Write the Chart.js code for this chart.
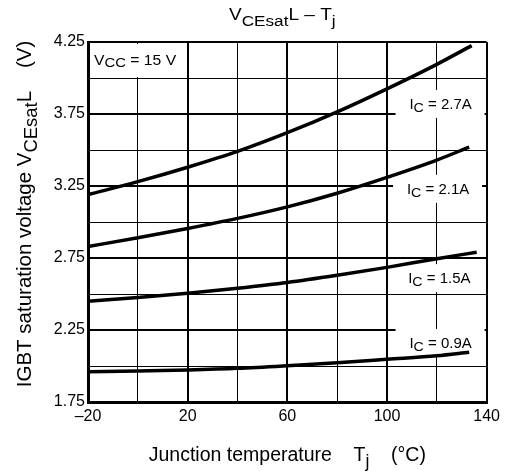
<!DOCTYPE html>
<html>
<head>
<meta charset="utf-8">
<script src="https://cdn.jsdelivr.net/npm/chart.js@4/dist/chart.umd.min.js"></script>
<style>
  body { margin: 0; background: #fff; }
</style>
</head>
<body>
<canvas id="vceChart" width="505" height="471"></canvas>
<script>
// values
const temps = [-20, 0, 20, 40, 60, 80, 100, 120];
const endTemps = [134, 133, 136, 133];
const ic27 = [3.19, 3.28, 3.38, 3.49, 3.62, 3.765, 3.925, 4.095, 4.225];
const ic21 = [2.83, 2.89, 2.955, 3.025, 3.105, 3.20, 3.31, 3.43, 3.52];
const ic15 = [2.45, 2.475, 2.505, 2.54, 2.58, 2.63, 2.685, 2.745, 2.79];
const ic09 = [1.96, 1.966, 1.973, 1.984, 2.002, 2.023, 2.047, 2.071, 2.095];
const seriesNames = ["2.7A", "2.1A", "1.5A", "0.9A"];
const xTickLabels = [-20, 20, 60, 100, 140];
const yTickLabels = [1.75, 2.25, 2.75, 3.25, 3.75, 4.25];

const FONT = "'Liberation Sans', Arial, sans-serif";

const toPoints = (vals, i) =>
  vals.map((v, k) => ({ x: k < temps.length ? temps[k] : endTemps[i], y: v }));

const datasets = [ic27, ic21, ic15, ic09].map((vals, i) => ({
  label: "IC = " + seriesNames[i],
  data: toPoints(vals, i),
  borderColor: "#000",
  borderWidth: 3.5,
  pointRadius: 0,
  showLine: true,
  fill: false,
  cubicInterpolationMode: "monotone",
}));

// draw text made of pieces, some of them lowered like subscripts,
// sx stretches it sideways like the scanned sheet
const drawRich = (ctx, parts, x, y, size, align, sx) => {
  ctx.save();
  ctx.textBaseline = "alphabetic";
  ctx.textAlign = "left";
  let total = 0;
  parts.forEach((p) => {
    ctx.font = (p.sub ? size * p.sub : size) + "px " + FONT;
    total += ctx.measureText(p.t).width;
  });
  ctx.translate(x, y);
  ctx.scale(sx, 1);
  let cx = align === "center" ? -total / 2 : 0;
  parts.forEach((p) => {
    ctx.font = (p.sub ? size * p.sub : size) + "px " + FONT;
    ctx.fillText(p.t, cx, p.sub ? p.dy : 0);
    cx += ctx.measureText(p.t).width;
  });
  ctx.restore();
};

const curveLabels = [
  { name: seriesNames[0], t: 121.5, v: 3.82 },
  { name: seriesNames[1], t: 120.5, v: 3.23 },
  { name: seriesNames[2], t: 121, v: 2.61 },
  { name: seriesNames[3], t: 121.5, v: 2.16 },
];

const boxesPlugin = {
  id: "boxes",
  beforeDatasetsDraw(chart) {
    const { ctx, scales } = chart;
    const xs = scales.x, ys = scales.y;
    ctx.save();
    ctx.fillStyle = "#fff";
    // Vcc box covers the top left cells
    ctx.fillRect(xs.getPixelForValue(-20) + 2, ys.getPixelForValue(4.25) + 2,
      xs.getPixelForValue(20) - xs.getPixelForValue(-20) - 3,
      ys.getPixelForValue(4.0) - ys.getPixelForValue(4.25) - 3);
    curveLabels.forEach((l) => {
      const px = xs.getPixelForValue(l.t), py = ys.getPixelForValue(l.v);
      ctx.fillRect(px - 45, py - 14, 89, 28);
    });
    ctx.restore();
  },
  afterDraw(chart) {
    const { ctx, scales, chartArea } = chart;
    const xs = scales.x, ys = scales.y;
    ctx.save();
    ctx.fillStyle = "#000";
    curveLabels.forEach((l) => {
      const px = xs.getPixelForValue(l.t), py = ys.getPixelForValue(l.v);
      drawRich(ctx, [{ t: "I" }, { t: "C", sub: 0.95, dy: 3 }, { t: " = " + l.name }], px, py + 5, 14, "center", 1.07);
    });
    drawRich(ctx, [{ t: "V" }, { t: "CC", sub: 0.95, dy: 2 }, { t: " = 15 V" }],
      chartArea.left + 6, ys.getPixelForValue(4.125) + 5, 14, "left", 1.12);

    const mid = (chartArea.left + chartArea.right) / 2;
    // title
    drawRich(ctx, [{ t: "V" }, { t: "CEsat", sub: 0.9, dy: 6 }, { t: "L – T" }, { t: "j", sub: 0.9, dy: 6 }],
      mid - 5, 20, 17, "center", 1.12);
    // x axis title
    drawRich(ctx, [{ t: "Junction temperature    T" }, { t: "j", sub: 0.9, dy: 6 }, { t: "    (°C)" }],
      mid, 461, 19.5, "center", 1);
    // y axis title
    ctx.translate(25, 214);
    ctx.rotate(-Math.PI / 2);
    drawRich(ctx, [{ t: "IGBT saturation voltage V" }, { t: "CEsat", sub: 0.9, dy: 6 }, { t: "L    (V)" }],
      0, 6, 20.5, "center", 1);
    ctx.restore();
  },
};

new Chart(document.getElementById("vceChart").getContext("2d"), {
  type: "scatter",
  data: { datasets: datasets },
  options: {
    responsive: false,
    devicePixelRatio: 1,
    animation: false,
    layout: { padding: { top: 42, right: 15, left: 0, bottom: 0 } },
    plugins: { legend: { display: false }, tooltip: { enabled: false }, title: { display: false } },
    scales: {
      x: {
        type: "linear",
        min: -20,
        max: 140,
        afterFit: (s) => { s.height = 69; },
        ticks: {
          stepSize: 20,
          color: "#000",
          font: { size: 16, family: FONT },
          padding: 5,
          maxRotation: 0,
          callback: (v) => xTickLabels.includes(v) ? (v < 0 ? "–" + Math.abs(v) : String(v)) : "",
        },
        grid: {
          color: "#000",
          drawTicks: false,
          lineWidth: (c) => (c.tick && xTickLabels.includes(c.tick.value) ? 2 : 1),
        },
        border: { color: "#000", width: 3 },
      },
      y: {
        min: 1.75,
        max: 4.25,
        afterFit: (s) => { s.width = 88; },
        ticks: {
          stepSize: 0.25,
          color: "#000",
          font: { size: 16, family: FONT },
          padding: 3,
          callback: (v) => {
            const hit = yTickLabels.find((t) => Math.abs(t - v) < 1e-6);
            return hit !== undefined ? hit.toFixed(2) : "";
          },
        },
        grid: {
          color: "#000",
          drawTicks: false,
          lineWidth: (c) => (c.tick && yTickLabels.some((t) => Math.abs(t - c.tick.value) < 1e-6) ? 2 : 1),
        },
        border: { color: "#000", width: 3 },
      },
    },
  },
  plugins: [boxesPlugin],
});
</script>
</body>
</html>
